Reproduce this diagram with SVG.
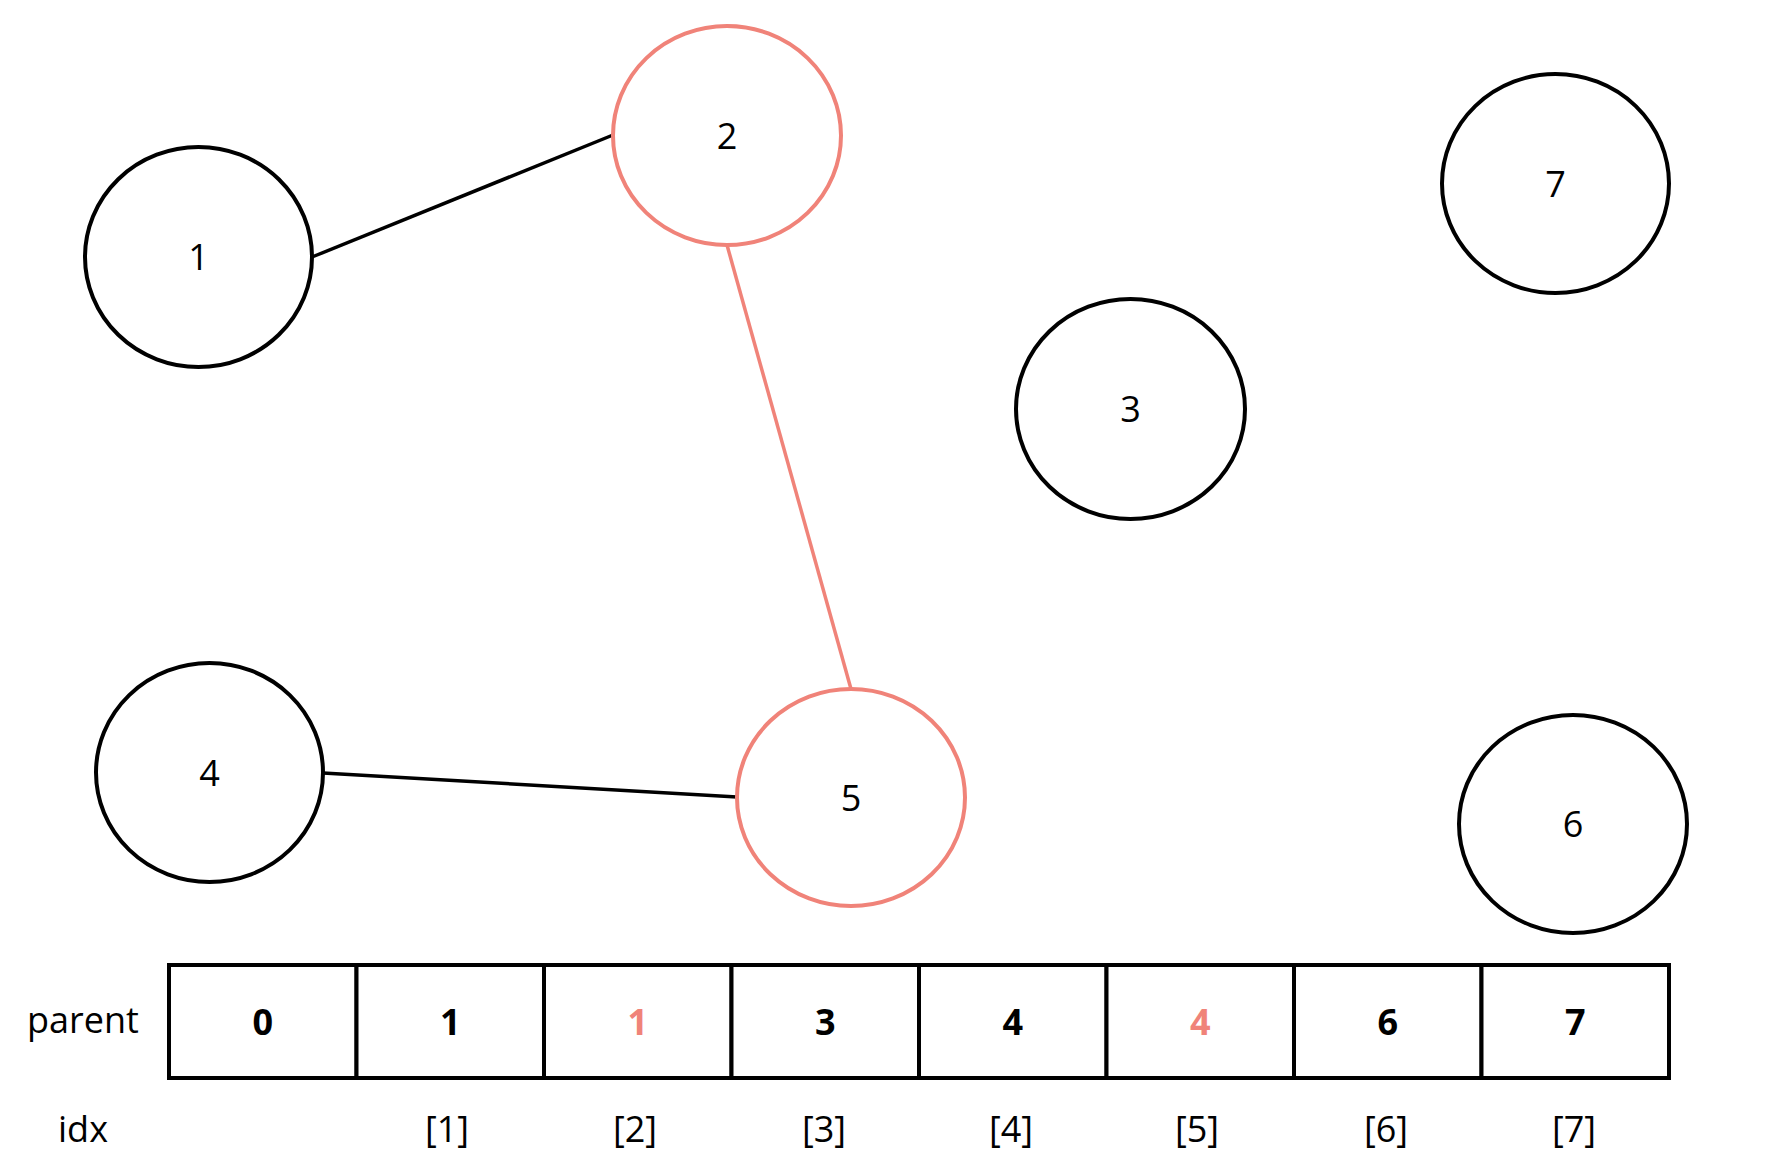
<svg xmlns="http://www.w3.org/2000/svg" width="1790" height="1174" viewBox="0 0 1790 1174">
<style>
.node{fill:#fff;stroke:#000;stroke-width:4}
.hl{stroke:#F08379}
.lbl{font-family:"Open Sans","Liberation Sans",sans-serif;font-size:36px;text-anchor:middle;fill:#000}
.val{font-family:"Open Sans","Liberation Sans",sans-serif;font-size:36px;font-weight:bold;text-anchor:middle;fill:#000}
.red{fill:#F08379}
.edge{stroke:#000;stroke-width:3.5;fill:none}
.cell{fill:#fff;stroke:#000;stroke-width:4}
</style>
<rect width="1790" height="1174" fill="#fff"/>
<g id="connectors">
<line class="edge" x1="312" y1="257" x2="613" y2="135"/>
<line class="edge" x1="727" y1="245" x2="851" y2="689" style="stroke:#F08379"/>
<line class="edge" x1="323" y1="773" x2="737" y2="797"/>
</g>
<g id="node1"><ellipse class="node" cx="198.5" cy="257" rx="113.5" ry="110"/><text class="lbl" x="198.5" y="270">1</text></g>
<g id="node2"><ellipse class="node hl" cx="727" cy="135.5" rx="114" ry="109.5"/><text class="lbl" x="727" y="148.5">2</text></g>
<g id="node3"><ellipse class="node" cx="1130.5" cy="409" rx="114.5" ry="110"/><text class="lbl" x="1130.5" y="422">3</text></g>
<g id="node7"><ellipse class="node" cx="1555.5" cy="183.5" rx="113.5" ry="109.5"/><text class="lbl" x="1555.5" y="196.5">7</text></g>
<g id="node4"><ellipse class="node" cx="209.5" cy="772.5" rx="113.5" ry="109.5"/><text class="lbl" x="209.5" y="785.5">4</text></g>
<g id="node5"><ellipse class="node hl" cx="851" cy="797.5" rx="114" ry="108.5"/><text class="lbl" x="851" y="810.5">5</text></g>
<g id="node6"><ellipse class="node" cx="1573" cy="824" rx="114" ry="109"/><text class="lbl" x="1573" y="837">6</text></g>
<g id="table">
<rect class="cell" x="169" y="965" width="187.5" height="113"/>
<rect class="cell" x="356.5" y="965" width="187.5" height="113"/>
<rect class="cell" x="544" y="965" width="187.5" height="113"/>
<rect class="cell" x="731.5" y="965" width="187.5" height="113"/>
<rect class="cell" x="919" y="965" width="187.5" height="113"/>
<rect class="cell" x="1106.5" y="965" width="187.5" height="113"/>
<rect class="cell" x="1294" y="965" width="187.5" height="113"/>
<rect class="cell" x="1481.5" y="965" width="187.5" height="113"/>
<text class="lbl" x="83" y="1033">parent</text>
<text class="val" x="262.75" y="1035">0</text>
<text class="val" x="450.25" y="1035">1</text>
<text class="val red" x="637.75" y="1035">1</text>
<text class="val" x="825.25" y="1035">3</text>
<text class="val" x="1012.75" y="1035">4</text>
<text class="val red" x="1200.25" y="1035">4</text>
<text class="val" x="1387.75" y="1035">6</text>
<text class="val" x="1575.25" y="1035">7</text>
<text class="lbl" x="83" y="1142">idx</text>
<text class="lbl" x="447" y="1142">[1]</text>
<text class="lbl" x="635" y="1142">[2]</text>
<text class="lbl" x="824" y="1142">[3]</text>
<text class="lbl" x="1011" y="1142">[4]</text>
<text class="lbl" x="1197" y="1142">[5]</text>
<text class="lbl" x="1386" y="1142">[6]</text>
<text class="lbl" x="1574" y="1142">[7]</text>
</g>
</svg>
